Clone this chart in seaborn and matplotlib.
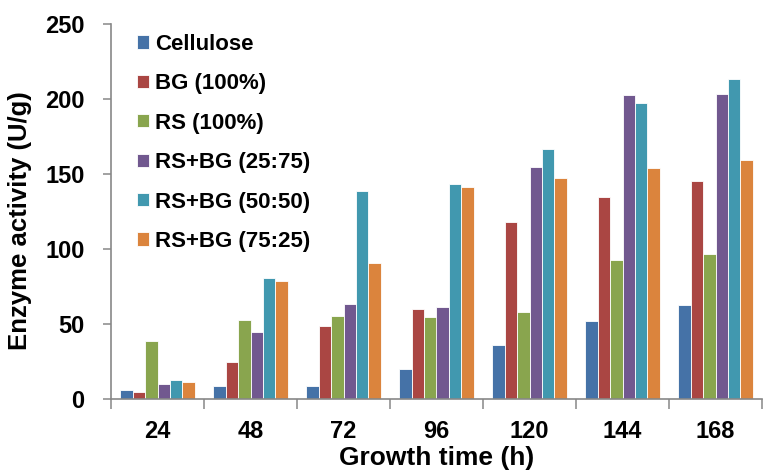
import numpy as np
import pandas as pd
import matplotlib
matplotlib.use("Agg")
import matplotlib.pyplot as plt
import seaborn as sns

times = ["24", "48", "72", "96", "120", "144", "168"]
series = ["Cellulose", "BG (100%)", "RS (100%)", "RS+BG (25:75)", "RS+BG (50:50)", "RS+BG (75:25)"]
cellulose = [6, 8.5, 9, 20, 36, 52, 62.5]
bg100 = [5, 25, 48.5, 60, 118, 134.5, 145.5]
rs100 = [39, 52.5, 55.5, 54.5, 58, 93, 96.5]
rsbg_25_75 = [10, 45, 63.5, 61.5, 155, 203, 203.5]
rsbg_50_50 = [12.5, 81, 138.5, 143.5, 166.5, 197.5, 213.5]
rsbg_75_25 = [11.5, 79, 90.5, 141.5, 147.5, 154, 159.5]
colors = ["#4572A7", "#AA4643", "#89A54E", "#71588F", "#4198AF", "#DB843D"]
yticks = [0, 50, 100, 150, 200, 250]

values = [cellulose, bg100, rs100, rsbg_25_75, rsbg_50_50, rsbg_75_25]
rows = []
for s, vals in zip(series, values):
    for t, v in zip(times, vals):
        rows.append({"time": t, "series": s, "value": v})
df = pd.DataFrame(rows)

sns.set_style("white")
plt.rcParams["font.family"] = ["Liberation Sans", "DejaVu Sans"]
plt.rcParams["font.weight"] = "bold"
plt.rcParams["text.color"] = "black"
plt.rcParams["axes.labelcolor"] = "black"
plt.rcParams["xtick.labelcolor"] = "black"
plt.rcParams["ytick.labelcolor"] = "black"

fig = plt.figure(figsize=(7.63, 4.74), dpi=100)
ax = fig.add_axes([111/763, 1-399/474, 651/763, 375/474])

sns.barplot(data=df, x="time", y="value", hue="series", order=times,
            hue_order=series, palette=colors, width=0.8, saturation=1,
            edgecolor="white", linewidth=0.6, ax=ax)

ax.set_xlim(-0.5, 6.5)
ax.set_ylim(0, 250)
ax.set_yticks(yticks)
ax.set_yticklabels([str(v) for v in yticks], fontsize=17, fontweight="bold", color="black")

ax.set_xticks(np.arange(-0.5, 7, 1))
ax.set_xticklabels([])
ax.set_xticks(np.arange(len(times)), minor=True)
ax.set_xticklabels(times, minor=True, fontsize=17, fontweight="bold", color="black")
ax.tick_params(axis="x", which="major", length=7, width=1.1, color="#878787", direction="out", bottom=True)
ax.tick_params(axis="x", which="minor", length=0, pad=15)
ax.tick_params(axis="y", length=6, width=1.1, color="#878787", direction="out", left=True, pad=13)

for side in ["top", "right"]:
    ax.spines[side].set_visible(False)
for side in ["left", "bottom"]:
    ax.spines[side].set_color("#878787")
    ax.spines[side].set_linewidth(1.2)

ax.set_xlabel("Growth time (h)", fontsize=19, fontweight="bold", color="black")
ax.set_ylabel("Enzyme activity (U/g)", fontsize=18.5, fontweight="bold", color="black")
ax.xaxis.set_label_coords(0.5, -0.125)
ax.yaxis.set_label_coords(-0.121, 0.475)

handles, labels = ax.get_legend_handles_labels()
leg = ax.legend(handles, labels, loc="upper left", bbox_to_anchor=(0.04, 0.974),
                frameon=False, fontsize=16, borderpad=0, labelspacing=0.83,
                handlelength=0.55, handleheight=0.55, handletextpad=0.25,
                borderaxespad=0)
for t in leg.get_texts():
    t.set_fontweight("bold")
    t.set_color("black")

fig.savefig("out.png", dpi=100)
